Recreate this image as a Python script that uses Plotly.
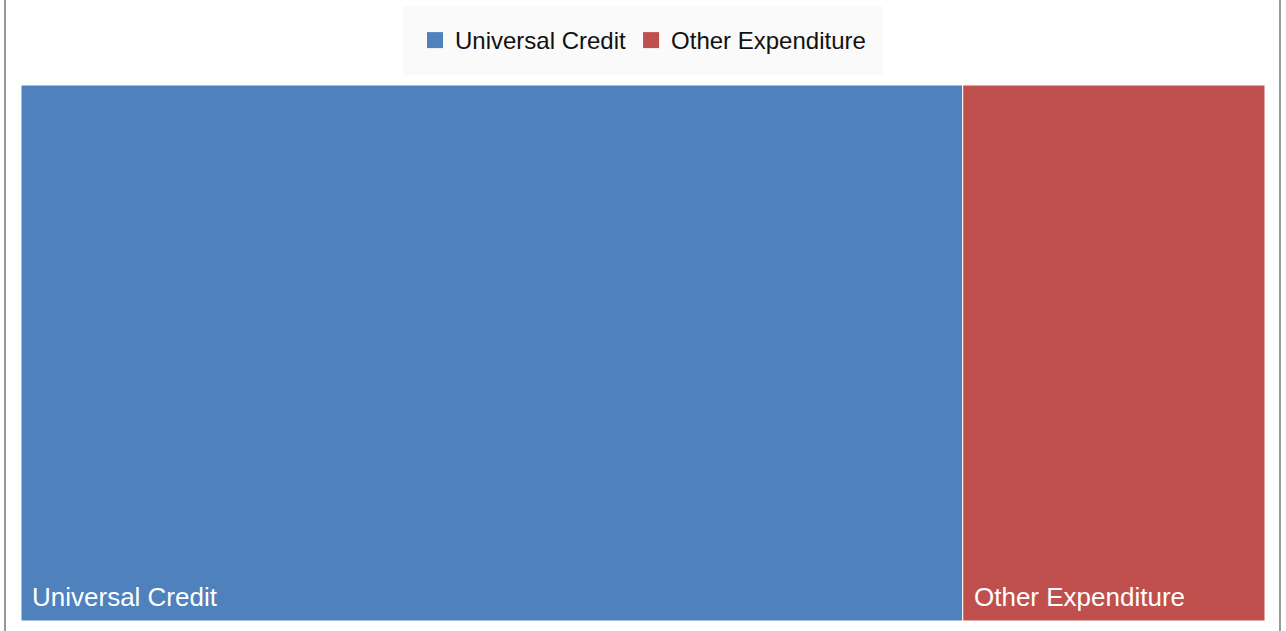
import plotly.graph_objects as go

# Expenditure split (share of total, %)
categories = ["Universal Credit", "Other Expenditure"]
values = [75.7, 24.3]
colors = ["#4f81bd", "#c0504d"]

FONT = "Liberation Sans, Arial, Helvetica, sans-serif"

fig = go.Figure()

fig.add_trace(go.Treemap(
    labels=categories,
    parents=["", ""],
    values=values,
    marker=dict(colors=colors, line=dict(color="white", width=1),
                pad=dict(t=0, l=0, r=0, b=0)),
    textinfo="none",
    hoverinfo="label+value",
    pathbar=dict(visible=False),
    tiling=dict(pad=0),
    sort=False,
    domain=dict(x=[0, 1], y=[0, 1]),
))

# Legend entries for the two categories
for name, col in zip(categories, colors):
    fig.add_trace(go.Scatter(
        x=[None], y=[None], mode="markers", name=name,
        marker=dict(symbol="square", size=17, color=col),
        showlegend=True, hoverinfo="skip",
    ))

# Tile labels, placed at the lower-left corner of each tile
total = sum(values)
annotations = []
left = 0.0
for name, v in zip(categories, values):
    annotations.append(dict(
        x=left, y=0, xref="paper", yref="paper",
        xanchor="left", yanchor="bottom",
        xshift=9, yshift=7,
        text=name, showarrow=False,
        font=dict(family=FONT, size=26, color="white"),
    ))
    left += v / total

fig.update_layout(
    width=1286, height=631,
    margin=dict(l=21, r=21, t=85, b=10, autoexpand=False),
    paper_bgcolor="white",
    plot_bgcolor="white",
    font=dict(family=FONT, color="#111111"),
    xaxis=dict(visible=False),
    yaxis=dict(visible=False),
    legend=dict(
        orientation="h",
        x=0.5, xanchor="center",
        y=1 - 6 / 631, yanchor="top",
        yref="container",
        bgcolor="#fafafa",
        bordercolor="#fafafa",
        borderwidth=12,
        font=dict(size=24),
        itemsizing="trace",
    ),
    annotations=annotations,
    shapes=[
        dict(type="line", xref="paper", yref="paper",
             x0=-16 / 1244, x1=-16 / 1244, y0=-0.1, y1=1.3,
             line=dict(color="#999999", width=2)),
        dict(type="line", xref="paper", yref="paper",
             x0=1259 / 1244, x1=1259 / 1244, y0=-0.1, y1=1.3,
             line=dict(color="#999999", width=2)),
    ],
)

fig.write_html("out.html")
